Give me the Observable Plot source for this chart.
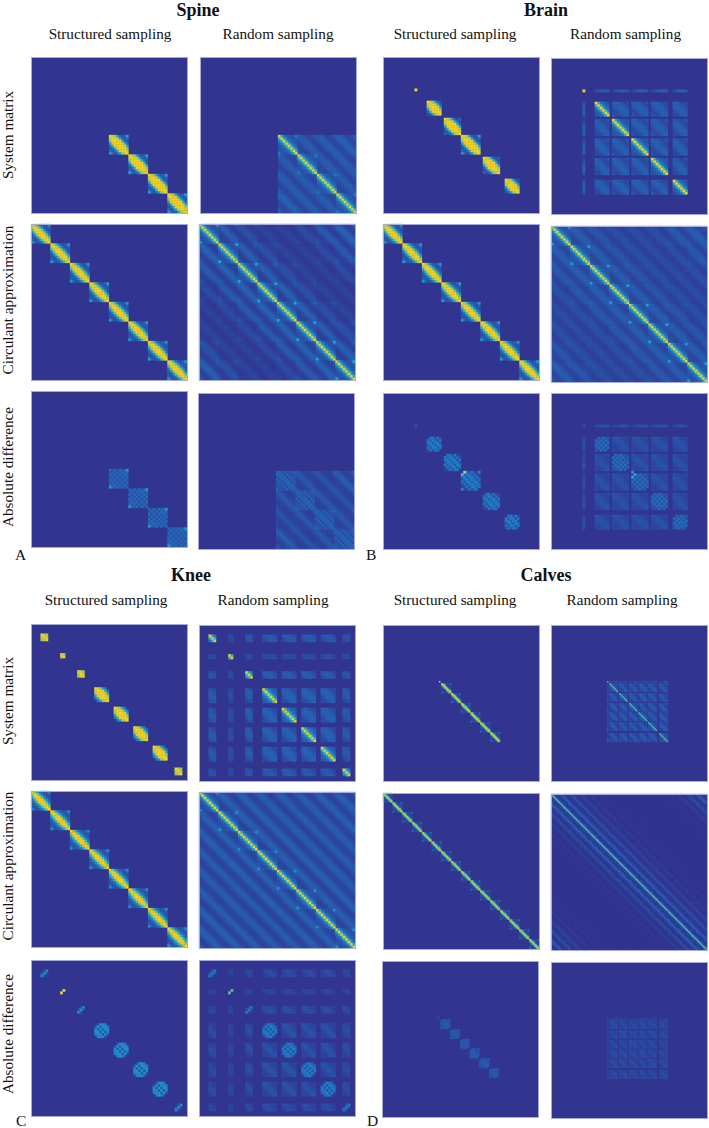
<!DOCTYPE html>
<html>
<head>
<meta charset="utf-8">
<script src="https://cdn.jsdelivr.net/npm/d3@7"></script>
<script src="https://cdn.jsdelivr.net/npm/@observablehq/plot@0.6"></script>
<style>
html,body{margin:0;padding:0;background:#fff}
#page{position:relative;width:709px;height:1128px;overflow:hidden;background:#fff;font-family:"Liberation Serif",serif;color:#111}
.t{position:absolute;white-space:nowrap;line-height:0}
</style>
</head>
<body>
<div id="page"></div>
<script>
// ---- text ----
const anatomyTitles = ["Spine", "Brain", "Knee", "Calves"];
const samplingLabels = ["Structured sampling", "Random sampling"];
const rowLabels = ["System matrix", "Circulant approximation", "Absolute difference"];
const panelLetters = ["A", "B", "C", "D"];

// ---- colour ramp (value -> colour) ----
const colorStops = [0, 0.15, 0.3, 0.45, 0.6, 0.75, 0.88, 1];
const colorRamp = ["#32358f", "#2a55aa", "#1f80c8", "#20a8d2", "#48c0a0", "#a8d25c", "#eed22c", "#fbd41c"];

// ---- sampled phase encodes (inclusive runs of matrix rows) ----
const fullRuns = [[0, 63]];
const spineRuns = [[32, 63]];
const brainRuns = [[13, 13], [18, 23], [25, 31], [32, 39], [41, 47], [50, 55]];
const brainRandRuns = [[13, 13], [18, 23], [25, 31], [33, 39], [41, 47], [50, 55]];
const kneeRuns = [[4, 6], [12, 13], [19, 21], [26, 31], [34, 39], [42, 47], [50, 55], [59, 61]];
const calvesFullRuns = [[0, 127]];
const calvesStructRuns = [[46, 46], [48, 95]];
const calvesRuns = [[46, 46], [48, 54], [56, 62], [64, 70], [72, 78], [80, 86], [89, 95]];

// ---- within-block values, by distance from the diagonal ----
const spineSysIn = [1, 1, .86, .46, .22, .14, .22, .42];
const spineCircIn = [1, .93, .66, .32, .18, .14, .2, .4];
const spineAbsIn = [.22, .12, .22, .12, .24, .16, .22, .4];
const spineRandSysIn = [.84, .5, .26, .2, .16, .14, .16, .28];
const spineRandCircIn = [.84, .48, .26, .18, .14, .14, .16, .45];
const spineRandAbsIn = [.2, .2, .1, .2, .12, .14, .16, .2];
const brainSysIn = [1, 1, .86, .44, .2, .12, .2, .42];
const brainCircIn = [1, .93, .64, .32, .18, .14, .2, .4];
const brainAbsIn = [.16, .3, .28, .12, .26, .1, .08, .35];
const brainRandSysIn = [.88, .5, .26, .2, .16, .14, .16, .25];
const brainRandCircIn = [.84, .46, .24, .18, .14, .14, .16, .42];
const brainRandAbsIn = [.14, .24, .12, .24, .12, .16, .1, .18];
const kneeSysIn = [1, 1, .88, .46, .28, 0, 0, 0];
const kneeCircIn = [1, .86, .54, .3, .18, .14, .18, .36];
const kneeAbsIn = [.36, .14, .36, .36, .3, 0, 0, 0];
const kneeRandSysIn = [.84, .48, .28, .22, .18, .16, .16, .16];
const kneeRandCircIn = [.84, .44, .22, .17, .13, .13, .16, .36];
const kneeRandAbsIn = [.3, .13, .3, .26, .2, 0, 0, 0];
const calvesSysIn = [.84, .62, .16, .1, .08, .08, .1, .25];
const calvesCircIn = [.8, .55, .16, .1, .08, .08, .1, .25];
const calvesAbsIn = [.18, .12, .18, .1, .16, .1, .12, .2];
const calvesRandSysIn = [.58, .16, .16, .13, .11, .11, .13, .16];
const calvesRandCircIn = [.6, .18, .09, .03, .02, .03, .08, .18];
const calvesRandAbsIn = [.12, .11, .1, .1, .08, .08, .1, .11];

// ---- between-block values, by diagonal offset modulo the block size ----
const spineRandSysOff = [.19, .17, .14, .1, .08, .1, .14, .17];
const spineRandCircOff = [.21, .19, .13, .08, .05, .08, .13, .19];
const spineRandAbsOff = [.17, .14, .09, .07, .07, .07, .1, .15];
const brainRandSysOff = [.2, .19, .16, .12, .09, .12, .16, .19];
const brainRandCircOff = [.19, .18, .14, .1, .08, .1, .14, .18];
const brainRandAbsOff = [.15, .13, .11, .09, .08, .09, .11, .13];
const kneeRandSysOff = [.2, .2, .17, .13, .11, .13, .17, .2];
const kneeRandCircOff = [.2, .18, .13, .09, .06, .09, .13, .18];
const kneeRandAbsOff = [.15, .13, .1, .07, .08, .07, .1, .13];
const calvesRandSysOff = [.18, .16, .13, .09, .07, .09, .13, .16];
const calvesRandCircOff = [.24, .17, .07, .03, .01, .03, .07, .17];
const calvesRandAbsOff = [.11, .1, .09, .07, .06, .07, .09, .1];

// ---- gain of the between-block values, by block lag ----
const flatLag8 = [1, 1, 1, 1, 1, 1, 1, 1];
const spineSysLag = [1, 1, 1, 1.1, 1, 1.1, 1, 1];
const spineCircLag = [1, .95, .7, .4, .35, .55, .85, 1];
const spineAbsLag = [1, 1, .9, 1.15, 1, 1.15, .9, 1];
const brainCircLag = [1, 1, .85, .7, .65, .7, .9, 1];
const kneeCircLag = [1, 1, 1, .95, .95, .95, 1, 1];
const calvesCircLag = [1, .75, .5, .3, .15, .08, .04, .02, .02, .02, .02, .04, .08, .2, .45, .75];
const flatLag16 = [1, 1, 1, 1, 1, 1, 1, 1, 1, 1, 1, 1, 1, 1, 1, 1];

// ---- per-block gain of the sampled blocks ----
const flatWeight8 = [1, 1, 1, 1, 1, 1, 1, 1];
const kneeWeight = [.85, .6, .9, 1, 1, 1, 1, .85];
const kneeAbsWeight = [.8, .65, .85, 1, 1, 1, 1, .85];
const flatWeight16 = [1, 1, 1, 1, 1, 1, 1, 1, 1, 1, 1, 1, 1, 1, 1, 1];

// ---- narrowing of the band towards the block ends, by steps from the end ----
const bandLens = [1, .8, .82, .88, .95, 1, 1, 1, 1, 1, 1, 1, 1, 1, 1];
const roundLens = [0, .9, .95, 1, 1, 1, 1, 1, 1, 1, 1, 1, 1, 1, 1];

// ---- isolated bright entries [row, column, value] ----
const kneeAbsPeaks = [[12, 13, .92], [13, 12, .92]];
const kneeRandAbsPeaks = [[12, 13, .62], [13, 12, .62]];
const brainAbsPeaks = [[32, 33, .8], [33, 32, .6]];
const brainRandAbsPeaks = [[33, 34, .45], [34, 33, .45], [32, 33, .4]];

// ---- table of panels: built from the arrays above ----
const N = 64, C = 128;
const panelTable = [
  // Spine
  {n: N, runs: spineRuns, inB: spineSysIn, lens: bandLens, perBlock: true},
  {n: N, runs: spineRuns, inB: spineRandSysIn, off: spineRandSysOff, lag: spineSysLag, w: flatWeight8},
  {n: N, runs: fullRuns, inB: spineCircIn, lens: bandLens, perBlock: true},
  {n: N, runs: fullRuns, inB: spineRandCircIn, off: spineRandCircOff, lag: spineCircLag, w: flatWeight8},
  {n: N, runs: spineRuns, inB: spineAbsIn},
  {n: N, runs: spineRuns, inB: spineRandAbsIn, off: spineRandAbsOff, lag: spineAbsLag, w: flatWeight8},
  // Brain
  {n: N, runs: brainRuns, inB: brainSysIn, lens: bandLens},
  {n: N, runs: brainRandRuns, inB: brainRandSysIn, off: brainRandSysOff, lag: flatLag8, w: flatWeight8},
  {n: N, runs: fullRuns, inB: brainCircIn, lens: bandLens, perBlock: true},
  {n: N, runs: fullRuns, inB: brainRandCircIn, off: brainRandCircOff, lag: brainCircLag, w: flatWeight8},
  {n: N, runs: brainRuns, inB: brainAbsIn, lens: roundLens, peaks: brainAbsPeaks},
  {n: N, runs: brainRandRuns, inB: brainRandAbsIn, off: brainRandAbsOff, lag: flatLag8, w: flatWeight8, peaks: brainRandAbsPeaks, lens: roundLens},
  // Knee
  {n: N, runs: kneeRuns, inB: kneeSysIn, lens: bandLens},
  {n: N, runs: kneeRuns, inB: kneeRandSysIn, off: kneeRandSysOff, lag: flatLag8, w: kneeWeight},
  {n: N, runs: fullRuns, inB: kneeCircIn, lens: bandLens, perBlock: true},
  {n: N, runs: fullRuns, inB: kneeRandCircIn, off: kneeRandCircOff, lag: kneeCircLag, w: flatWeight8},
  {n: N, runs: kneeRuns, inB: kneeAbsIn, lens: roundLens, peaks: kneeAbsPeaks},
  {n: N, runs: kneeRuns, inB: kneeRandAbsIn, off: kneeRandAbsOff, lag: flatLag8, w: kneeAbsWeight, peaks: kneeRandAbsPeaks, lens: roundLens},
  // Calves
  {n: C, runs: calvesStructRuns, inB: calvesSysIn},
  {n: C, runs: calvesRuns, inB: calvesRandSysIn, off: calvesRandSysOff, lag: flatLag16, w: flatWeight16},
  {n: C, runs: calvesFullRuns, inB: calvesCircIn},
  {n: C, runs: calvesFullRuns, inB: calvesRandCircIn, off: calvesRandCircOff, lag: calvesCircLag, w: flatWeight16},
  {n: C, runs: calvesStructRuns, inB: calvesAbsIn, lens: roundLens, perBlock: true},
  {n: C, runs: calvesRuns, inB: calvesRandAbsIn, off: calvesRandAbsOff, lag: flatLag16, w: flatWeight16}
];

// ---- page layout, separate from the values ----
const panelBoxes = [
  [31,57],[200,57],[31,224],[199,224],[31,391],[198,393],
  [383,57],[551,58],[383,224],[551,226],[383,393],[551,393],
  [31,624],[199,625],[31,791],[199,792],[31,960],[199,960],
  [383,625],[551,625],[383,793],[551,794],[382,961],[551,962]
];
const PANEL_SIZE = 156;
const BLOCK = 8;
const background = colorRamp[0];

function matrixRows(p) {
  const active = p.runs.flatMap(([a, b]) => d3.range(a, b + 1));
  const runStart = new Map(), runLen = new Map();
  for (const [a, b] of p.runs) for (let c = a; c <= b; c++) {
    runStart.set(c, p.perBlock ? c - c % BLOCK : a);
    runLen.set(c, p.perBlock ? BLOCK : b - a + 1);
  }
  const blocks = p.n / BLOCK;
  const rows = [];
  for (const i of active) for (const j of active) {
    const bi = Math.floor(i / BLOCK), bj = Math.floor(j / BLOCK);
    let v = 0;
    if (bi === bj) {
      const d = Math.abs(i - j);
      v = p.inB[d];
      if (p.lens) {
        const a = runStart.get(i), L = runLen.get(i);
        const s = (i - a) + (j - a);
        const e = Math.min(s, 2 * (L - 1) - s);
        if (L > 1 && !(d === 0 && e > 0) && e >= 0) v *= p.lens[e];
      }
    } else if (p.off) {
      const lag = ((bj - bi) % blocks + blocks) % blocks;
      const offset = ((j - i) % BLOCK + BLOCK) % BLOCK;
      v = p.off[offset] * p.lag[lag] * p.w[bi] * p.w[bj];
    }
    if (v > 0) rows.push({i, j, v});
  }
  for (const [i, j, v] of p.peaks || []) rows.push({i, j, v});
  return d3.sort(rows, (r) => r.v);
}

const page = document.getElementById("page");
panelTable.forEach((p, k) => {
  const domain = d3.range(p.n);
  const svg = Plot.plot({
    width: PANEL_SIZE,
    height: PANEL_SIZE,
    margin: 0,
    x: {domain, axis: null, padding: 0, round: false},
    y: {domain, axis: null, padding: 0, round: false},
    color: {type: "linear", domain: colorStops, range: colorRamp, clamp: true},
    marks: [
      Plot.frame({fill: background}),
      Plot.cell(matrixRows(p), {x: "j", y: "i", fill: "v", stroke: "v", strokeWidth: 0.25}),
      Plot.frame({stroke: "#a6aadc", strokeWidth: 1})
    ]
  });
  const [left, top] = panelBoxes[k];
  svg.style.cssText += `;position:absolute;left:${left}px;top:${top}px;overflow:visible;filter:blur(0.45px);background:none;`;
  page.appendChild(svg);
});

// ---- text placement ----
function addText(str, x, baseline, size, bold, anchor) {
  const el = document.createElement("div");
  el.className = "t";
  el.textContent = str;
  el.style.left = x + "px";
  el.style.top = (baseline - 0.3375 * size) + "px";
  el.style.fontSize = size + "px";
  if (bold) el.style.fontWeight = "bold";
  if (anchor === "middle") el.style.transform = "translateX(-50%)";
  page.appendChild(el);
}
function addRowText(str, baselineX, yc, size) {
  const el = document.createElement("div");
  el.className = "t";
  el.textContent = str;
  el.style.left = (baselineX - 0.3375 * size) + "px";
  el.style.top = yc + "px";
  el.style.fontSize = size + "px";
  el.style.transform = "translate(-50%,0) rotate(-90deg)";
  page.appendChild(el);
}
const TITLE = 18, LABEL = 15.2, LETTER = 15.5;
[[198, 16], [546, 16], [191, 581], [546, 581]].forEach(([x, y], k) => addText(anatomyTitles[k], x, y, TITLE, true, "middle"));
[[110, 278, 39], [455, 625.5, 39], [106, 273, 605], [455, 622, 605]].forEach(([a, b, y]) => {
  addText(samplingLabels[0], a, y, LABEL, false, "middle");
  addText(samplingLabels[1], b, y, LABEL, false, "middle");
});
[134.5, 299.7, 467].forEach((y, k) => addRowText(rowLabels[k], 12.7, y, LABEL));
[700.8, 865.8, 1034.3].forEach((y, k) => addRowText(rowLabels[k], 12.7, y, LABEL));
[[15, 560], [366, 560], [16, 1126], [367, 1126]].forEach(([x, y], k) => addText(panelLetters[k], x, y, LETTER, false));
</script>
</body>
</html>
